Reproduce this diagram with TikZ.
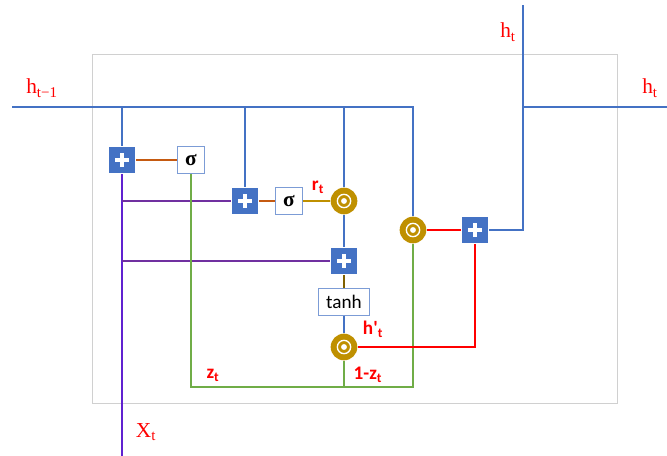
\documentclass[tikz,border=0pt]{standalone}
\usepackage{amsmath,amssymb}
\usepackage{fontspec}
\newfontfamily\calibri{Carlito}
\newfontfamily\cambria{Liberation Serif}
\usepackage{tikz}
\usetikzlibrary{calc}

\definecolor{gblue}{HTML}{4472C4}
\definecolor{ggold}{HTML}{BF9000}
\definecolor{gorange}{HTML}{C55A11}
\definecolor{gbrown}{HTML}{7F6000}
\definecolor{gpurple}{HTML}{7030A0}
\definecolor{gviolet}{HTML}{6021D0}
\definecolor{ggreen}{HTML}{70AD47}
\definecolor{gframe}{HTML}{D0D0D0}

\begin{document}
\begin{tikzpicture}[
    x=0.75pt, y=-0.75pt,
    line width=1.5pt,
    plusbox/.style={rectangle, fill=gblue, minimum size=19.5pt, inner sep=0pt,
      path picture={\draw[white, line width=3pt] ($(path picture bounding box.center)+(-5pt,0)$) -- ++(10pt,0);
        \draw[white, line width=3pt] ($(path picture bounding box.center)+(0,-5pt)$) -- ++(0,10pt);}},
    odot/.style={circle, fill=ggold, minimum size=20pt, inner sep=0pt,
      path picture={\draw[white, line width=1pt] (path picture bounding box.center) circle (5pt);
        \fill[white] (path picture bounding box.center) circle (2.2pt);}},
    sigbox/.style={draw=gblue!70, line width=0.6pt, fill=white, minimum size=20pt, inner sep=0pt, font=\cambria\fontsize{16}{18}\selectfont\bfseries},
    tanhbox/.style={draw=gblue!70, line width=0.6pt, fill=white, minimum width=38pt, minimum height=20pt, inner sep=0pt, font=\calibri\Large},
    lbl/.style={text=red, font=\cambria\fontsize{16}{19}\selectfont, inner sep=1pt},
    slbl/.style={text=red, font=\calibri\Large\bfseries, inner sep=1pt},
    hline/.style={draw=gblue},
  ]
    \useasboundingbox (0,0) rectangle (667,456);
    \draw[gframe, line width=0.75pt] (92,55) rectangle (617,403);

    % gates
    \node[plusbox] (p1) at (122,160) {};
    \node[sigbox] (s1) at (191,160) {σ};
    \node[plusbox] (p2) at (245,201) {};
    \node[sigbox] (s2) at (289,201) {σ};
    \node[odot] (m1) at (344,201) {};
    \node[plusbox] (p3) at (344,261) {};
    \node[tanhbox] (th) at (344,302) {tanh};
    \node[odot] (m2) at (344,347) {};
    \node[odot] (m3) at (413,230) {};
    \node[plusbox] (p4) at (475,230) {};

    \coordinate (in) at (12,107);
    \coordinate (out) at (523,5);
    \coordinate (outr) at (667,107);
    \coordinate (xin) at (122,456);
    \coordinate (gb) at (413,387);

    % hidden state
    \draw[hline] (in) -| (m3);
    \draw[hline] (p1 |- in) -- (p1);
    \draw[hline] (p2 |- in) -- (p2);
    \draw[hline] (m1 |- in) -- (m1);
    \draw[hline] (m1) -- (p3);
    \draw[hline] (th) -- (m2);
    \draw[hline] (p4) -| (out);
    \draw[hline] (out |- outr) -- (outr);

    % input
    \draw[gviolet] (p1) -- (xin);
    \draw[gpurple] (p1 |- p2) -- (p2);
    \draw[gpurple] (p1 |- p3) -- (p3);

    \draw[gorange] (p1) -- (s1);
    \draw[gorange] (p2) -- (s2);
    \draw[ggold] (s2) -- (m1);
    \draw[gbrown] (p3) -- (th);

    % update gate
    \draw[ggreen] (s1) |- (gb) -- (m3);
    \draw[ggreen] (m2) -- (m2 |- gb);

    \draw[red] (m3) -- (p4);
    \draw[red] (m2) -| (p4);

    % labels
    \node[lbl] (lprev) at (42,88) {h\textsubscript{t−1}};
    \node[lbl] (lup) at (508,32) {h\textsubscript{t}};
    \node[lbl] (lright) at (650,88) {h\textsubscript{t}};
    \node[lbl] (lx) at (146,432) {X\textsubscript{t}};
    \node[slbl] (lr) at (318,187) {r\textsubscript{t}};
    \node[slbl] (lh) at (373,329) {h'\textsubscript{t}};
    \node[slbl] (lz) at (213,375) {z\textsubscript{t}};
    \node[slbl] (lz1) at (368,375) {1-z\textsubscript{t}};
\end{tikzpicture}
\end{document}
